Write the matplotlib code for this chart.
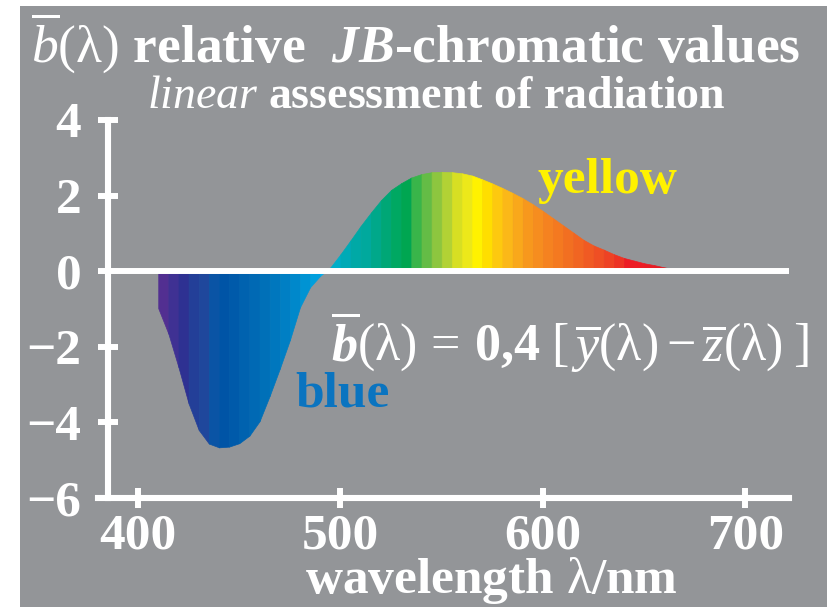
import matplotlib
matplotlib.use("Agg")
import matplotlib.pyplot as plt
from matplotlib.patches import Rectangle

# b-bar(lambda) values, 5 nm steps
wavelengths = list(range(410, 675, 5))
b_values = [-0.98, -1.65, -2.54, -3.50, -4.20, -4.56, -4.66, -4.64, -4.55, -4.35,
            -3.97, -3.30, -2.58, -1.82, -0.95, -0.42, -0.12,
            0.10, 0.45, 0.82, 1.20, 1.55, 1.88, 2.15, 2.33, 2.48, 2.57,
            2.62, 2.63, 2.62, 2.59, 2.53, 2.43, 2.32, 2.20, 2.07, 1.93,
            1.77, 1.59, 1.40, 1.21, 1.02, 0.83, 0.68, 0.57, 0.45, 0.35,
            0.28, 0.21, 0.16, 0.10, 0.05, 0.00]

# one colour per 5 nm strip (strip starts at 410, 415, ... 665)
strip_colors = ["#522f91", "#3f3193", "#2e3192", "#233f98", "#1f479c", "#0a54a5",
                "#0054a6", "#005aaa", "#0062af", "#0069b4", "#0070b8", "#0077be",
                "#007fc4", "#0088cb", "#0093d3", "#009fdd", "#00aeef",
                "#00aec8", "#00aab6", "#00a9a6", "#00a99d", "#00a88a", "#00a776",
                "#00a862", "#00a651", "#39b54a", "#64bc46", "#8dc63f", "#b2d235",
                "#d7df23", "#ece81a", "#fff200", "#ffde00", "#fdc90f", "#fbb818",
                "#f9a81b", "#f7981d", "#f68d1f", "#f58220", "#f47920", "#f26f21",
                "#f16522", "#f05a23", "#ef4f24", "#ee4224", "#ed3324", "#ed1c24",
                "#ed1c24", "#e91c24", "#e51c24", "#e11b22", "#dd1a21"]

xticks = [400, 500, 600, 700]
yticks = [4, 2, 0, -2, -4, -6]

BG = "#939598"
W = "white"
L = r"\mathrm{\lambda}"

plt.rcParams["font.family"] = ["Liberation Serif", "DejaVu Serif"]
plt.rcParams["font.weight"] = "bold"
plt.rcParams["axes.labelweight"] = "bold"
plt.rcParams["mathtext.fontset"] = "custom"
plt.rcParams["mathtext.rm"] = "Liberation Serif:regular"
plt.rcParams["mathtext.it"] = "Liberation Serif:italic:regular"
plt.rcParams["mathtext.bf"] = "Liberation Serif:bold"
plt.rcParams["mathtext.bfit"] = "Liberation Serif:bold:italic"

fig = plt.figure(figsize=(8.32, 6.07), dpi=100, facecolor="white")
fig.patches.append(Rectangle((20 / 832, 0), 807 / 832, 601 / 607,
                             transform=fig.transFigure, facecolor=BG,
                             edgecolor="none", zorder=-10))

ax = fig.add_axes([98 / 832, 109 / 607, 691 / 832, 378 / 607])
ax.patch.set_alpha(0)
ax.set_xlim(380.25, 721.5)
ax.set_ylim(-6, 4)

for i in range(len(wavelengths) - 1):
    c = strip_colors[i]
    ax.fill_between(wavelengths[i:i + 2], 0, b_values[i:i + 2],
                    facecolor=c, edgecolor=c, linewidth=0.5)

ax.plot([381.5, 721.5], [0, 0], color=W, lw=4.3, solid_capstyle="butt",
        clip_on=False, zorder=5)

for s in ["top", "right"]:
    ax.spines[s].set_visible(False)
ax.spines["left"].set_position(("data", 385.4))
for s in ["left", "bottom"]:
    ax.spines[s].set_color(W)
    ax.spines[s].set_linewidth(4.4)

ax.set_xticks(xticks)
ax.set_yticks(yticks)
ax.tick_params(axis="both", direction="inout", length=15, width=4.3,
               color=W, labelcolor=W, labelsize=37)
ax.tick_params(axis="y", pad=12)
ax.tick_params(axis="x", pad=4)

ax.set_xlabel(r"wavelength $" + L + "$/nm", color=W, fontsize=37)
ax.xaxis.set_label_coords(0.57, -0.152)

fig.text(416 / 832, 1 - 62 / 607,
         r"$\overline{b}(" + L + r")$ relative  $\mathbfit{JB}$-chromatic values",
         color=W, fontsize=38.5, ha="center", va="baseline")
fig.text(436 / 832, 1 - 108 / 607, r"$\mathit{linear}$ assessment of radiation",
         color=W, fontsize=33, ha="center", va="baseline")

ax.text(613.3, -2.36,
        r"$\overline{\mathbfit{b}}(" + L + r")\, = \,\mathbf{0{,}4}\ [\,\overline{y}(" + L
        + r") - \overline{z}(" + L + r")\;]$",
        color=W, fontsize=37.5, ha="center", va="baseline")
ax.text(631.6, 2.07, "yellow", color="#fff200", fontsize=37,
        ha="center", va="baseline")
ax.text(501.2, -3.57, "blue", color="#0a74c0", fontsize=37,
        ha="center", va="baseline")

fig.savefig("out.png", dpi=100, facecolor=fig.get_facecolor())
